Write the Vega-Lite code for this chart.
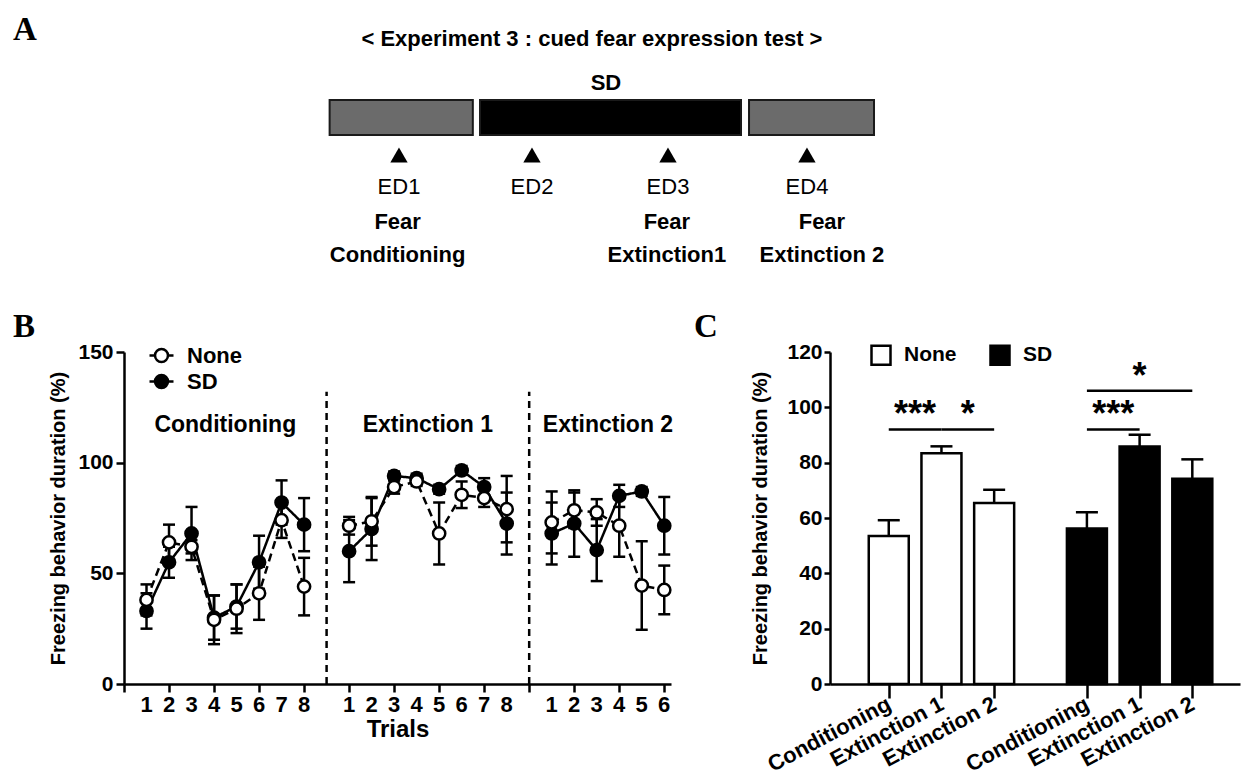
{
  "$schema": "https://vega.github.io/schema/vega-lite/v6.json",
  "padding": {"left": 12, "top": 0, "right": 0, "bottom": 0},
  "autosize": {"type": "pad"},
  "spacing": 41,
  "resolve": {"scale": {"fill": "independent", "strokeDash": "independent"}, "legend": {"fill": "independent"}},
  "config": {
    "view": {"stroke": null},
    "font": "Liberation Sans",
    "axis": {"domainColor": "black", "domainWidth": 2.5, "tickColor": "black", "tickWidth": 2.5, "labelColor": "black", "labelFont": "Liberation Sans", "labelFontWeight": "bold", "labelFontSize": 21, "titleColor": "black", "titleFont": "Liberation Sans", "titleFontWeight": "bold", "grid": false, "labelOverlap": false, "labelFlush": false},
    "legend": {"labelFont": "Liberation Sans", "labelFontWeight": "bold", "labelColor": "black"},
    "title": {"font": "Liberation Serif", "fontSize": 33, "fontWeight": "bold", "color": "black", "anchor": "start", "frame": "bounds"}
  },
  "datasets": {
    "timeline": [
      {"period": "Before", "start": 0.49, "end": 1.543, "condition": "Normal"},
      {"period": "Sleep deprivation", "start": 1.596, "end": 3.515, "condition": "SD"},
      {"period": "After", "start": 3.574, "end": 4.493, "condition": "Normal"}
    ],
    "events": [
      {"ed": "ED1", "day": 1},
      {"ed": "ED2", "day": 1.978},
      {"ed": "ED3", "day": 2.978},
      {"ed": "ED4", "day": 4.0}
    ],
    "tests": [
      {"test": "Fear\nConditioning", "day": 0.99},
      {"test": "Fear\nExtinction1", "day": 2.97},
      {"test": "Fear\nExtinction 2", "day": 4.11}
    ],
    "trials": [
      {"phase": "Conditioning", "trial": 1, "group": "None", "mean": 38, "sem": 7},
      {"phase": "Conditioning", "trial": 1, "group": "SD", "mean": 33, "sem": 8},
      {"phase": "Conditioning", "trial": 2, "group": "None", "mean": 64, "sem": 8},
      {"phase": "Conditioning", "trial": 2, "group": "SD", "mean": 55, "sem": 7},
      {"phase": "Conditioning", "trial": 3, "group": "None", "mean": 62, "sem": 3},
      {"phase": "Conditioning", "trial": 3, "group": "SD", "mean": 68, "sem": 12},
      {"phase": "Conditioning", "trial": 4, "group": "None", "mean": 29, "sem": 11},
      {"phase": "Conditioning", "trial": 4, "group": "SD", "mean": 30, "sem": 10},
      {"phase": "Conditioning", "trial": 5, "group": "None", "mean": 34, "sem": 11},
      {"phase": "Conditioning", "trial": 5, "group": "SD", "mean": 35, "sem": 10},
      {"phase": "Conditioning", "trial": 6, "group": "None", "mean": 41, "sem": 12},
      {"phase": "Conditioning", "trial": 6, "group": "SD", "mean": 55, "sem": 12},
      {"phase": "Conditioning", "trial": 7, "group": "None", "mean": 74, "sem": 8},
      {"phase": "Conditioning", "trial": 7, "group": "SD", "mean": 82, "sem": 10},
      {"phase": "Conditioning", "trial": 8, "group": "None", "mean": 44, "sem": 13},
      {"phase": "Conditioning", "trial": 8, "group": "SD", "mean": 72, "sem": 12},
      {"phase": "Extinction 1", "trial": 1, "group": "None", "mean": 71.5, "sem": 4},
      {"phase": "Extinction 1", "trial": 1, "group": "SD", "mean": 60, "sem": 14},
      {"phase": "Extinction 1", "trial": 2, "group": "None", "mean": 73.5, "sem": 11},
      {"phase": "Extinction 1", "trial": 2, "group": "SD", "mean": 70, "sem": 14},
      {"phase": "Extinction 1", "trial": 3, "group": "None", "mean": 89, "sem": 3},
      {"phase": "Extinction 1", "trial": 3, "group": "SD", "mean": 94, "sem": 2},
      {"phase": "Extinction 1", "trial": 4, "group": "None", "mean": 91.5, "sem": 2},
      {"phase": "Extinction 1", "trial": 4, "group": "SD", "mean": 93, "sem": 2},
      {"phase": "Extinction 1", "trial": 5, "group": "None", "mean": 68, "sem": 14},
      {"phase": "Extinction 1", "trial": 5, "group": "SD", "mean": 88, "sem": 2},
      {"phase": "Extinction 1", "trial": 6, "group": "None", "mean": 85.5, "sem": 6},
      {"phase": "Extinction 1", "trial": 6, "group": "SD", "mean": 96.5, "sem": 2},
      {"phase": "Extinction 1", "trial": 7, "group": "None", "mean": 84, "sem": 4},
      {"phase": "Extinction 1", "trial": 7, "group": "SD", "mean": 89, "sem": 4},
      {"phase": "Extinction 1", "trial": 8, "group": "None", "mean": 79, "sem": 15},
      {"phase": "Extinction 1", "trial": 8, "group": "SD", "mean": 72.5, "sem": 14},
      {"phase": "Extinction 2", "trial": 1, "group": "None", "mean": 73, "sem": 14},
      {"phase": "Extinction 2", "trial": 1, "group": "SD", "mean": 68, "sem": 14},
      {"phase": "Extinction 2", "trial": 2, "group": "None", "mean": 78.5, "sem": 8},
      {"phase": "Extinction 2", "trial": 2, "group": "SD", "mean": 72.5, "sem": 15},
      {"phase": "Extinction 2", "trial": 3, "group": "None", "mean": 77.5, "sem": 6},
      {"phase": "Extinction 2", "trial": 3, "group": "SD", "mean": 60.5, "sem": 14},
      {"phase": "Extinction 2", "trial": 4, "group": "None", "mean": 71.5, "sem": 14},
      {"phase": "Extinction 2", "trial": 4, "group": "SD", "mean": 85, "sem": 5},
      {"phase": "Extinction 2", "trial": 5, "group": "None", "mean": 44.5, "sem": 20},
      {"phase": "Extinction 2", "trial": 5, "group": "SD", "mean": 87, "sem": 2},
      {"phase": "Extinction 2", "trial": 6, "group": "None", "mean": 42.5, "sem": 11},
      {"phase": "Extinction 2", "trial": 6, "group": "SD", "mean": 71.5, "sem": 13}
    ],
    "summary": [
      {"group": "None", "stage": "Conditioning", "mean": 53.5, "sem": 5.7},
      {"group": "None", "stage": "Extinction 1", "mean": 83.4, "sem": 2.5},
      {"group": "None", "stage": "Extinction 2", "mean": 65.4, "sem": 4.8},
      {"group": "SD", "stage": "Conditioning", "mean": 56.2, "sem": 5.9},
      {"group": "SD", "stage": "Extinction 1", "mean": 85.8, "sem": 4.3},
      {"group": "SD", "stage": "Extinction 2", "mean": 74.2, "sem": 7.0}
    ],
    "sig": [
      {"group": "None", "from": "Conditioning", "to": "Extinction 1", "level": 92, "label": "***"},
      {"group": "None", "from": "Extinction 1", "to": "Extinction 2", "level": 92, "label": "*"},
      {"group": "SD", "from": "Conditioning", "to": "Extinction 1", "level": 92, "label": "***"},
      {"group": "SD", "from": "Conditioning", "to": "Extinction 2", "level": 106, "label": "*"}
    ]
  },
  "vconcat": [
    {
      "width": 1121,
      "height": 270,
      "layer": [
        {
          "data": {"name": "timeline"},
          "mark": {"type": "rect", "stroke": "#1a1a1a", "strokeWidth": 2},
          "encoding": {
            "x": {"field": "start", "type": "quantitative", "scale": {"domain": [-1.022, 7.221], "nice": false, "zero": false}, "axis": null},
            "x2": {"field": "end"},
            "y": {"datum": 10.0, "type": "quantitative", "scale": {"domain": [0, 27], "reverse": true, "nice": false, "zero": false}, "axis": null},
            "y2": {"datum": 13.5},
            "fill": {"field": "condition", "type": "nominal", "scale": {"domain": ["Normal", "SD"], "range": ["#6b6b6b", "#000000"]}, "legend": null}
          }
        },
        {
          "data": {"name": "events"},
          "mark": {"type": "point", "shape": "triangle-up", "filled": true, "color": "black", "size": 300, "opacity": 1},
          "encoding": {
            "x": {"field": "day", "type": "quantitative"},
            "y": {"datum": 15.5, "type": "quantitative"}
          }
        },
        {
          "data": {"name": "events"},
          "mark": {"type": "text", "font": "Liberation Sans", "fontSize": 22, "color": "black", "baseline": "middle"},
          "encoding": {
            "x": {"field": "day", "type": "quantitative"},
            "y": {"datum": 18.7, "type": "quantitative"},
            "text": {"field": "ed"}
          }
        },
        {
          "data": {"name": "tests"},
          "mark": {"type": "text", "font": "Liberation Sans", "fontSize": 22, "fontWeight": "bold", "color": "black", "baseline": "top", "lineBreak": "\n", "lineHeight": 33},
          "encoding": {
            "x": {"field": "day", "type": "quantitative"},
            "y": {"datum": 21.2, "type": "quantitative"},
            "text": {"field": "test"}
          }
        },
        {
          "data": {"values": [{"caption": "< Experiment 3 : cued fear expression test >"}]},
          "mark": {"type": "text", "font": "Liberation Sans", "fontSize": 22, "fontWeight": "bold", "color": "black", "baseline": "middle"},
          "encoding": {
            "x": {"datum": 2.419, "type": "quantitative"},
            "y": {"datum": 3.9, "type": "quantitative"},
            "text": {"field": "caption"}
          }
        },
        {
          "data": {"values": [{"caption": "SD"}]},
          "mark": {"type": "text", "font": "Liberation Sans", "fontSize": 22, "fontWeight": "bold", "color": "black", "baseline": "middle"},
          "encoding": {
            "x": {"datum": 2.522, "type": "quantitative"},
            "y": {"datum": 8.3, "type": "quantitative"},
            "text": {"field": "caption"}
          }
        },
        {
          "data": {"values": [{"caption": "A"}]},
          "mark": {"type": "text", "font": "Liberation Serif", "fontSize": 33, "fontWeight": "bold", "color": "black", "baseline": "middle", "align": "left"},
          "encoding": {
            "x": {"datum": -1.838, "type": "quantitative"},
            "y": {"datum": 3.0, "type": "quantitative"},
            "text": {"field": "caption"}
          }
        }
      ]
    },
    {
      "spacing": 17,
      "resolve": {"scale": {"fill": "independent"}, "legend": {"fill": "independent"}},
      "hconcat": [
        {
          "width": 547,
          "height": 332,
          "title": {"text": "B", "dx": -36, "offset": -3},
          "data": {"name": "trials"},
          "transform": [
            {"calculate": "datum.trial + (datum.phase === 'Conditioning' ? 0 : (datum.phase === 'Extinction 1' ? 9 : 18))", "as": "seq"},
            {"calculate": "datum.mean - datum.sem", "as": "lo"},
            {"calculate": "datum.mean + datum.sem", "as": "hi"}
          ],
          "layer": [
            {
              "data": {"values": [{}]},
              "mark": {"type": "rule", "strokeDash": [7, 5], "strokeWidth": 2.5, "color": "black"},
              "encoding": {
                "x": {"datum": 9, "type": "quantitative", "title": "Trials"},
                "y": {"datum": 0, "type": "quantitative", "title": "Freezing behavior duration (%)"},
                "y2": {"datum": 132}
              }
            },
            {
              "data": {"values": [{}]},
              "mark": {"type": "rule", "strokeDash": [7, 5], "strokeWidth": 2.5, "color": "black"},
              "encoding": {
                "x": {"datum": 18, "type": "quantitative", "title": "Trials"},
                "y": {"datum": 0, "type": "quantitative", "title": "Freezing behavior duration (%)"},
                "y2": {"datum": 132}
              }
            },
            {
              "transform": [{"aggregate": [{"op": "mean", "field": "seq", "as": "center"}], "groupby": ["phase"]}],
              "mark": {"type": "text", "fontSize": 23, "fontWeight": "bold", "color": "black", "baseline": "middle"},
              "encoding": {
                "x": {"field": "center", "type": "quantitative", "title": "Trials"},
                "y": {"datum": 117, "type": "quantitative", "title": "Freezing behavior duration (%)"},
                "text": {"field": "phase"}
              }
            },
            {
              "transform": [{"aggregate": [{"op": "count", "as": "n"}], "groupby": ["seq", "trial"]}],
              "mark": {"type": "text", "fontSize": 22, "fontWeight": "bold", "color": "black", "baseline": "middle"},
              "encoding": {
                "x": {"field": "seq", "type": "quantitative", "title": "Trials"},
                "y": {"datum": -9.6, "type": "quantitative", "title": "Freezing behavior duration (%)"},
                "text": {"field": "trial"}
              }
            },
            {
              "mark": {"type": "line", "color": "black", "strokeWidth": 2.5},
              "encoding": {
                "x": {"field": "seq", "type": "quantitative", "title": "Trials",
                  "scale": {"domain": [0, 24.3], "nice": false, "zero": false},
                  "axis": {"values": [0,1,2,3,4,5,6,7,8,9,10,11,12,13,14,15,16,17,18,19,20,21,22,23,24], "tickSize": 8, "labels": false, "titleFontSize": 24, "titlePadding": 24}},
                "y": {"field": "mean", "type": "quantitative", "title": "Freezing behavior duration (%)",
                  "scale": {"domain": [0, 150], "nice": false},
                  "axis": {"values": [0, 50, 100, 150], "tickSize": 8, "labelPadding": 3, "labelOverlap": false, "titleFontSize": 20, "titlePadding": 9}},
                "detail": {"field": "phase"},
                "strokeDash": {"field": "group", "type": "nominal", "scale": {"domain": ["None", "SD"], "range": [[8, 5], [1, 0]]}, "legend": null}
              }
            },
            {
              "mark": {"type": "rule", "color": "black", "strokeWidth": 2.5},
              "encoding": {
                "x": {"field": "seq", "type": "quantitative", "title": "Trials"},
                "y": {"field": "lo", "type": "quantitative", "title": "Freezing behavior duration (%)"},
                "y2": {"field": "hi"}
              }
            },
            {
              "mark": {"type": "tick", "orient": "horizontal", "color": "black", "size": 12, "thickness": 2.5, "opacity": 1},
              "encoding": {
                "x": {"field": "seq", "type": "quantitative", "title": "Trials"},
                "y": {"field": "hi", "type": "quantitative", "title": "Freezing behavior duration (%)"}
              }
            },
            {
              "mark": {"type": "tick", "orient": "horizontal", "color": "black", "size": 12, "thickness": 2.5, "opacity": 1},
              "encoding": {
                "x": {"field": "seq", "type": "quantitative", "title": "Trials"},
                "y": {"field": "lo", "type": "quantitative", "title": "Freezing behavior duration (%)"}
              }
            },
            {
              "mark": {"type": "point", "shape": "circle", "filled": true, "stroke": "black", "strokeWidth": 2.5, "size": 150, "opacity": 1},
              "encoding": {
                "x": {"field": "seq", "type": "quantitative", "title": "Trials"},
                "y": {"field": "mean", "type": "quantitative", "title": "Freezing behavior duration (%)"},
                "order": {"field": "group", "sort": "descending"},
                "fill": {"field": "group", "type": "nominal", "scale": {"domain": ["None", "SD"], "range": ["white", "black"]},
                  "legend": {"orient": "none", "legendX": 24, "legendY": -10, "title": null, "symbolType": "M-1,0H-0.54M0.54,0H1M0.54,0A0.54,0.54,0,1,1,-0.54,0A0.54,0.54,0,1,1,0.54,0Z", "symbolSize": 576, "symbolStrokeColor": "black", "symbolStrokeWidth": 2.5, "labelFontSize": 22, "rowPadding": 1, "labelOffset": 12}}
              }
            }
          ]
        },
        {
          "width": 410,
          "height": 332,
          "title": {"text": "C", "dx": -57, "offset": -3},
          "layer": [
            {
              "data": {"name": "summary"},
              "transform": [
                {"calculate": "indexof(['Conditioning','Extinction 1','Extinction 2'], datum.stage) + 1 + (datum.group === 'SD' ? 3.76 : 0)", "as": "pos"},
                {"calculate": "datum.mean + datum.sem", "as": "hi"}
              ],
              "layer": [
                {
                  "mark": {"type": "rule", "color": "black", "strokeWidth": 2.5},
                  "encoding": {
                    "x": {"field": "pos", "type": "quantitative"},
                    "y": {"field": "mean", "type": "quantitative"},
                    "y2": {"field": "hi"}
                  }
                },
                {
                  "mark": {"type": "tick", "orient": "horizontal", "color": "black", "size": 22, "thickness": 2.5, "opacity": 1},
                  "encoding": {
                    "x": {"field": "pos", "type": "quantitative"},
                    "y": {"field": "hi", "type": "quantitative"}
                  }
                },
                {
                  "mark": {"type": "bar", "size": 40, "stroke": "black", "strokeWidth": 2.5},
                  "encoding": {
                    "x": {"field": "pos", "type": "quantitative", "title": null,
                      "scale": {"domain": [-0.02, 7.57], "nice": false, "zero": false},
                      "axis": {"values": [1, 2, 3, 4.76, 5.76, 6.76], "tickSize": 14, "labelAngle": -28, "labelAlign": "right", "labelBaseline": "middle", "labelFontSize": 22, "labelPadding": 4, "labelOverlap": false,
                        "labelExpr": "(datum.value < 1.5 || (datum.value > 4 && datum.value < 5.2)) ? 'Conditioning' : ((datum.value < 2.5 || (datum.value > 5.2 && datum.value < 6.2)) ? 'Extinction 1' : 'Extinction 2')"}},
                    "y": {"field": "mean", "type": "quantitative", "title": "Freezing behavior duration (%)",
                      "scale": {"domain": [0, 120], "nice": false},
                      "axis": {"values": [0, 20, 40, 60, 80, 100, 120], "tickSize": 6, "labelPadding": 2, "labelOverlap": false, "titleFontSize": 20, "titlePadding": 16}},
                    "fill": {"field": "group", "type": "nominal", "scale": {"domain": ["None", "SD"], "range": ["white", "black"]},
                      "legend": {"orient": "none", "direction": "horizontal", "legendX": 40, "legendY": -8, "title": null, "symbolType": "square", "symbolSize": 361, "symbolStrokeColor": "black", "symbolStrokeWidth": 2.5, "labelFontSize": 21, "columnPadding": 28, "labelOffset": 12}}
                  }
                }
              ]
            },
            {
              "data": {"name": "sig"},
              "transform": [
                {"calculate": "indexof(['Conditioning','Extinction 1','Extinction 2'], datum.from) + 1 + (datum.group === 'SD' ? 3.76 : 0)", "as": "x1"},
                {"calculate": "indexof(['Conditioning','Extinction 1','Extinction 2'], datum.to) + 1 + (datum.group === 'SD' ? 3.76 : 0)", "as": "x2"},
                {"calculate": "(datum.x1 + datum.x2) / 2", "as": "xm"}
              ],
              "layer": [
                {
                  "mark": {"type": "rule", "color": "black", "strokeWidth": 2.5},
                  "encoding": {
                    "x": {"field": "x1", "type": "quantitative"},
                    "x2": {"field": "x2"},
                    "y": {"field": "level", "type": "quantitative"}
                  }
                },
                {
                  "mark": {"type": "text", "fontSize": 36, "fontWeight": "bold", "color": "black", "baseline": "alphabetic", "dy": -3},
                  "encoding": {
                    "x": {"field": "xm", "type": "quantitative"},
                    "y": {"field": "level", "type": "quantitative"},
                    "text": {"field": "label"}
                  }
                }
              ]
            }
          ]
        }
      ]
    }
  ]
}
